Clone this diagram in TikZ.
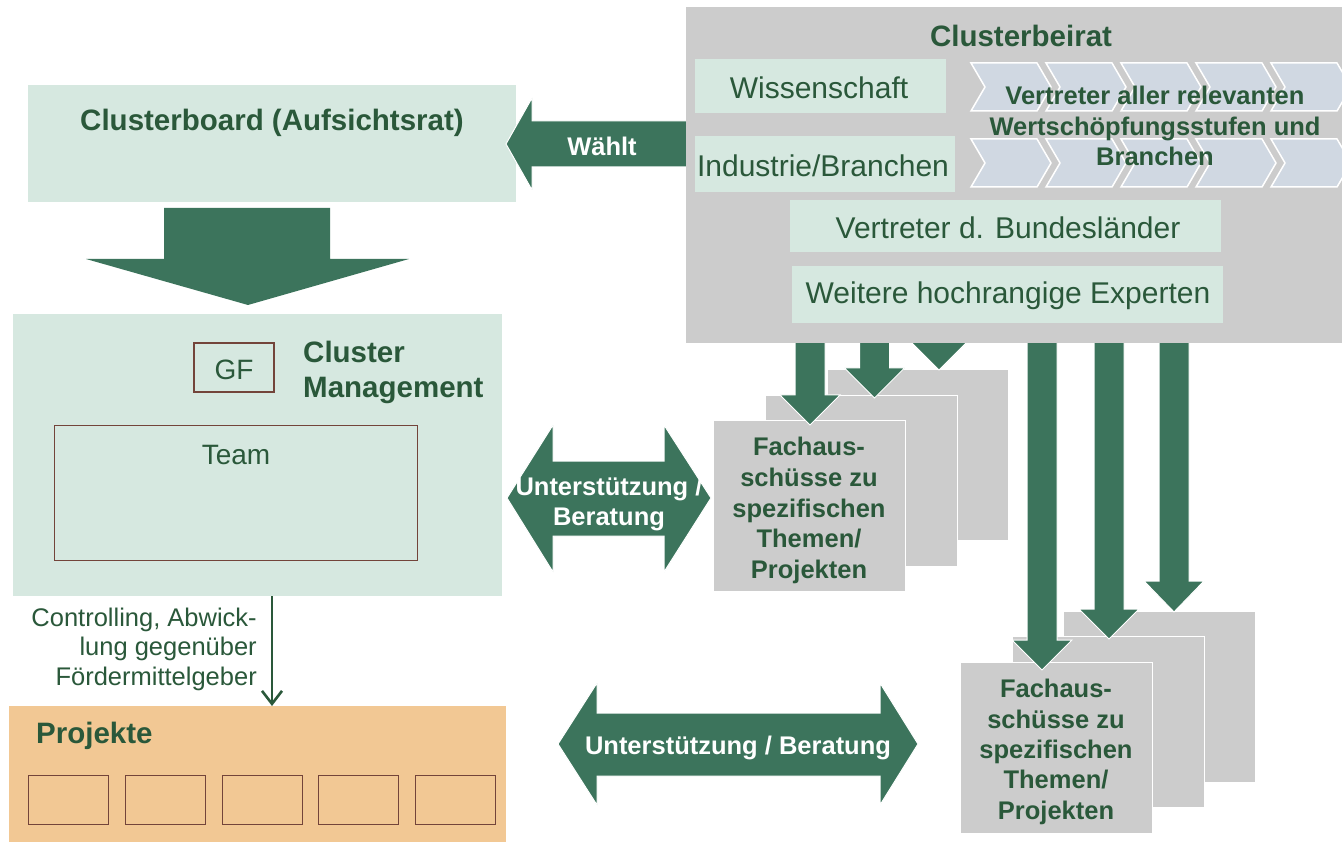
\documentclass[tikz,border=0pt]{standalone}
\usepackage{fontspec}
\setmainfont{Liberation Sans}
\usetikzlibrary{arrows.meta}
\definecolor{mint}{RGB}{214,232,224}
\definecolor{graybox}{RGB}{204,204,204}
\definecolor{chevfill}{RGB}{208,216,226}
\definecolor{arrowgreen}{RGB}{60,116,92}
\definecolor{txtgreen}{RGB}{42,88,58}
\definecolor{brownline}{RGB}{115,68,58}
\definecolor{peach}{RGB}{242,200,148}
\newcommand{\fsz}[2]{\fontsize{#1}{#2}\selectfont}
\tikzset{
  titletxt/.style={font=\bfseries\fsz{29.5}{35}, text=txtgreen, inner sep=0pt},
  plaintxt/.style={font=\fsz{30}{36}, text=txtgreen, inner sep=0pt},
  smalltxt/.style={font=\fsz{28}{33}, text=txtgreen},
  boldsmall/.style={font=\bfseries\fsz{25.5}{30.7}, text=txtgreen, align=center, inner sep=0pt},
  whitetxt/.style={font=\bfseries\fsz{25.5}{30}, text=white, align=center, inner sep=0pt},
  mintbox/.style={fill=mint, draw=none, inner sep=0pt, anchor=north west},
  grayback/.style={fill=graybox, draw=white, line width=1.2pt, inner sep=0pt, anchor=north west, minimum width=192, minimum height=171},
  blockarrow/.style={fill=arrowgreen, draw=white, line width=1pt, line join=miter},
  chevron/.style={fill=chevfill, draw=white, line width=1.5pt, line join=miter},
  framebox/.style={draw=brownline, line width=1.4pt, fill=none, inner sep=0pt},
  thinarrow/.style={draw=txtgreen, line width=2.2pt, -{Straight Barb[length=13pt,width=20pt,line width=2.6pt]}},
}
\newcommand{\DArrow}[4]{\path[blockarrow] (#1-15,#2) -- (#1+15,#2) -- (#1+15,#3) -- (#1+30,#3) -- (#1,#4) -- (#1-30,#3) -- (#1-15,#3) -- cycle;}
\newcommand{\Chev}[2]{\path[chevron] (#1,#2-24) -- (#1+66,#2-24) -- (#1+80,#2) -- (#1+66,#2+24) -- (#1,#2+24) -- (#1+14,#2) -- cycle;}
\begin{document}
\begin{tikzpicture}[x=1pt,y=-1pt]
\useasboundingbox[fill=white] (0,0) rectangle (1342,842);

% Clusterboard
\node[mintbox, minimum width=488, minimum height=117] (board) at (28,85) {};
\node[titletxt] (boardt) at (272,123) {Clusterboard (Aufsichtsrat)};
\path[blockarrow, draw=none] (164,208) -- (330,208) -- (330,259) -- (409,259) -- (248,305) -- (86,259) -- (164,259) -- cycle;

% Cluster Management
\node[mintbox, minimum width=489, minimum height=282] (cm) at (13,314) {};
\node[framebox, minimum width=80, minimum height=49] (gf) at (234,367.5) {};
\node[smalltxt, inner sep=0pt] (gft) at (234,370) {GF};
\node[titletxt, anchor=west, align=left] (cmt) at (303,372.5) {Cluster\\Management};
\node[framebox, anchor=north west, minimum width=363, minimum height=135] (team) at (54,425) {};
\node[smalltxt, inner sep=0pt] (teamt) at (236,455) {Team};

% Projekte
\node[fill=peach, anchor=north west, minimum width=497, minimum height=136, inner sep=0pt] (proj) at (9,706) {};
\node[titletxt, anchor=west] (projt) at (36,736) {Projekte};
\foreach \x [count=\i] in {28,125,222,318,415}
  \node[framebox, anchor=north west, minimum width=80, minimum height=49] (p\i) at (\x,775) {};

% Controlling connector
\coordinate (cx) at (272,0);
\draw[thinarrow] (cm.south -| cx) -- (proj.north -| cx);
\node[font=\fsz{25.5}{29.5}, text=txtgreen, align=right, anchor=east, inner sep=0pt] (ctrl) at (257,649) {Controlling, Abwick-\\lung gegenüber\\Fördermittelgeber};

% Unterstuetzung arrows
\path[blockarrow] (507,498) -- (553,425) -- (553,461) -- (664,461) -- (664,425) -- (711,498) -- (664,572) -- (664,536) -- (553,536) -- (553,572) -- cycle;
\node[whitetxt] (u1) at (609,504) {Unterstützung /\\Beratung};
\path[blockarrow] (558,744) -- (597,683) -- (597,713) -- (880,713) -- (880,683) -- (918,744) -- (880,805) -- (880,776) -- (597,776) -- (597,805) -- cycle;
\node[whitetxt] (u2) at (738,748) {Unterstützung / Beratung};

% Fachausschuesse stacks
\node[grayback, minimum width=181] (s1c) at (827,369) {};
\node[grayback] (s1b) at (765,395) {};
\node[grayback] (s1a) at (713,420) {};
\node[boldsmall] (s1t) at (809,510.5) {Fachaus-\\schüsse zu\\spezifischen\\Themen/\\Projekten};
\node[grayback] (s2c) at (1063,611) {};
\node[grayback] (s2b) at (1012,636) {};
\node[grayback] (s2a) at (960,662) {};
\node[boldsmall, font=\bfseries\fsz{25.5}{30.3}] (s2t) at (1056,752) {Fachaus-\\schüsse zu\\spezifischen\\Themen/\\Projekten};

% down arrows from Clusterbeirat
\DArrow{810}{335}{395}{425}
\DArrow{874.5}{335}{368}{398}
\DArrow{939}{330}{340}{370}
\DArrow{1042}{335}{640}{670}
\DArrow{1109}{335}{609}{639}
\DArrow{1174}{335}{581}{612}

% Waehlt arrow
\path[blockarrow] (506,144) -- (532,98) -- (532,121) -- (690,121) -- (690,167) -- (532,167) -- (532,190) -- cycle;
\node[whitetxt] (waehlt) at (602,146) {Wählt};

% Clusterbeirat
\node[fill=graybox, anchor=north west, minimum width=656, minimum height=336, inner sep=0pt] (beirat) at (686,7) {};
\node[titletxt] (beiratt) at (1021,36) {Clusterbeirat};
\node[mintbox, anchor=center, minimum width=251, minimum height=54] (wiss) at (820.5,86) {};
\node[plaintxt] (wisst) at (819,88) {Wissenschaft};
\node[mintbox, anchor=center, minimum width=260, minimum height=56] (ind) at (825,164) {};
\node[plaintxt] (indt) at (823,166) {Industrie/Branchen};
\node[mintbox, anchor=center, minimum width=431, minimum height=52] (bl) at (1005.5,226) {};
\node[plaintxt] (blt) at (1008,228) {Vertreter d. Bundesländer};
\node[mintbox, anchor=center, minimum width=431, minimum height=57] (exp) at (1007.5,294.5) {};
\node[plaintxt] (expt) at (1008,296) {Weitere hochrangige Experten};
\begin{scope}
\clip (686,7) rectangle (1342,343);
\foreach \x in {971,1046,1121,1196,1271} {\Chev{\x}{87} \Chev{\x}{163}}
\end{scope}
\node[boldsmall, align=center] (wert) at (1155,126) {Vertreter aller relevanten\\Wertschöpfungsstufen und\\Branchen};
\end{tikzpicture}
\end{document}
